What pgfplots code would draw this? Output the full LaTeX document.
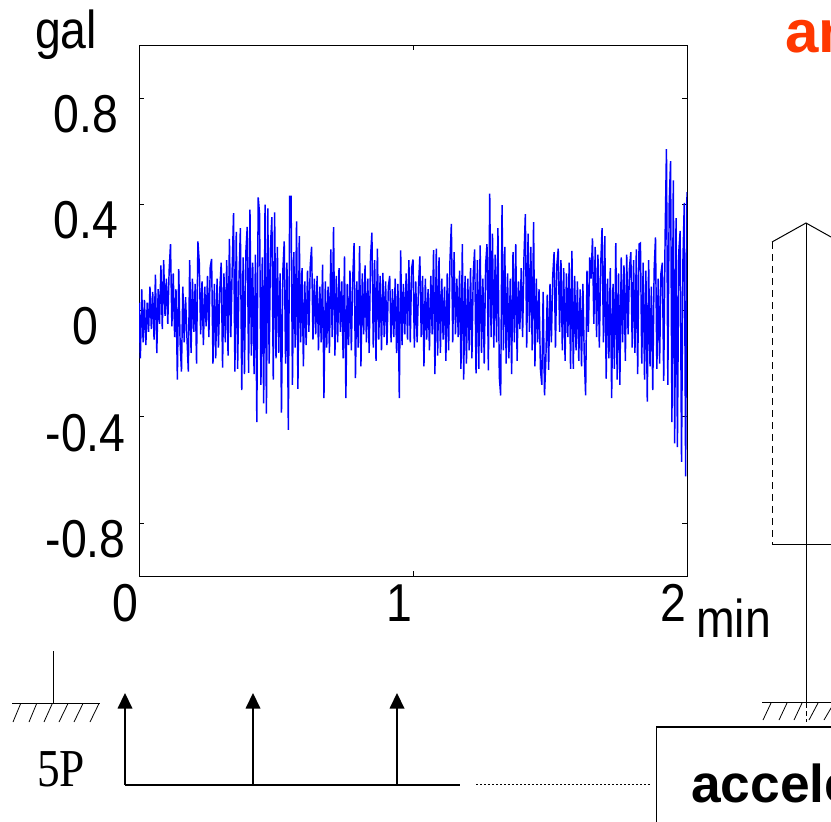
\documentclass[border=0pt]{standalone}
\usepackage{pgfplots}
\usepackage{fontspec}
\pgfplotsset{compat=1.18}
\setmainfont{Liberation Sans}
\newfontfamily\lab[FakeStretch=0.87]{Liberation Sans}
\newfontfamily\serifP[FakeStretch=0.85]{Liberation Serif}
\definecolor{trace}{RGB}{0,0,255}
\definecolor{titleor}{RGB}{255,56,0}
\begin{document}
\begin{tikzpicture}
\clip (0pt,0pt) rectangle (623.25pt,-615.75pt);
\begin{axis}[
  at={(104.25pt,-432pt)}, anchor=south west,
  scale only axis, width=411pt, height=398.25pt,
  xmin=0, xmax=2, ymin=-1, ymax=1,
  xtick={0,1,2}, ytick={-0.8,-0.4,0,0.4,0.8},
  xticklabels={0,1,2\hspace{7pt}}, yticklabels={-0.8,-0.4,0,0.4,0.8},
  tick align=inside, tick pos=both, major tick length=3.5pt,
  tick style={black,line width=0.5pt}, axis line style={line width=0.75pt},
  /pgf/number format/assume math mode=true,
  tick label style={font=\fontsize{40}{40}\selectfont\lab},
  yticklabel style={anchor=center,xshift=-40pt,yshift=-12pt},
  xticklabel style={anchor=center,xshift=-10.5pt,yshift=-20pt},
]
\addplot[trace,line width=1.1pt] table {
0.000 .03
0.005 -.18
0.010 .08
0.015 -.12
0.020 .04
0.025 -.13
0.030 .03
0.035 -.08
0.040 .09
0.045 -.07
0.050 .07
0.055 -.11
0.060 .135
0.065 -.16
0.070 .08
0.075 -.05
0.080 .17
0.085 -.07
0.090 .19
0.095 -.02
0.100 .12
0.105 -.05
0.110 .15
0.115 .25
0.120 -.06
0.125 .14
0.130 -.10
0.135 .08
0.140 -.26
0.145 .156
0.150 -.12
0.155 -.23
0.160 .09
0.165 -.12
0.170 .05
0.175 -.10
0.180 -.23
0.185 .19
0.190 -.16
0.195 .12
0.200 -.08
0.205 .10
0.210 -.20
0.215 .26
0.220 .18
0.225 -.09
0.230 .11
0.235 -.13
0.240 .09
0.245 -.06
0.250 .13
0.255 -.10
0.260 .164
0.265 .194
0.270 -.20
0.275 .10
0.280 -.18
0.285 .12
0.290 -.14
0.295 .08
0.300 .18
0.305 -.215
0.310 .14
0.315 -.12
0.320 .19
0.325 -.17
0.330 .27
0.335 -.10
0.340 .15
0.345 .367
0.350 -.23
0.355 .296
0.360 -.22
0.365 .12
0.370 .31
0.375 -.30
0.380 .20
0.385 -.24
0.390 .22
0.395 .315
0.400 -.235
0.405 .38
0.410 -.17
0.415 .18
0.420 -.24
0.425 .21
0.430 -.42
0.435 .426
0.440 .365
0.445 -.28
0.450 .20
0.455 -.35
0.460 .399
0.465 -.388
0.470 .385
0.475 -.20
0.480 .25
0.485 .352
0.490 -.26
0.495 .37
0.500 -.18
0.505 .24
0.510 -.16
0.515 .14
0.520 -.385
0.525 .15
0.530 .26
0.535 -.20
0.540 .18
0.545 -.45
0.550 .43
0.555 .43
0.560 -.28
0.565 .22
0.570 -.14
0.575 .336
0.580 -.295
0.585 .28
0.590 -.12
0.595 .16
0.600 -.21
0.605 .11
0.610 -.13
0.615 .15
0.620 -.08
0.625 .17
0.630 .24
0.635 -.11
0.640 .12
0.645 -.09
0.650 .13
0.655 -.15
0.660 .09
0.665 -.12
0.670 .173
0.675 -.33
0.680 .11
0.685 -.14
0.690 .09
0.695 -.16
0.700 .23
0.705 -.10
0.710 .314
0.715 -.17
0.720 .13
0.725 -.12
0.730 .16
0.735 -.08
0.740 .11
0.745 -.18
0.750 .204
0.755 -.33
0.760 .10
0.765 -.13
0.770 .15
0.775 -.15
0.780 .12
0.785 .254
0.790 -.255
0.795 .11
0.800 -.14
0.805 .242
0.810 -.21
0.815 .14
0.820 -.09
0.825 .17
0.830 -.12
0.835 .12
0.840 -.16
0.845 .20
0.850 .293
0.855 -.14
0.860 .19
0.865 -.19
0.870 .233
0.875 -.11
0.880 .13
0.885 -.15
0.890 .142
0.895 -.10
0.900 .11
0.905 -.13
0.910 .09
0.915 .13
0.920 -.12
0.925 .08
0.930 -.10
0.935 .12
0.940 -.16
0.945 .10
0.950 -.33
0.955 .226
0.960 -.13
0.965 .10
0.970 -.09
0.975 .14
0.980 -.11
0.985 .19
0.990 -.12
0.995 .16
1.000 .192
1.005 -.14
1.010 .11
1.015 -.12
1.020 .09
1.025 .204
1.030 -.10
1.035 .13
1.040 -.21
1.045 .12
1.050 -.11
1.055 .08
1.060 -.15
1.065 .13
1.070 -.09
1.075 .227
1.080 -.24
1.085 .233
1.090 -.17
1.095 .20
1.100 -.16
1.105 .12
1.110 -.11
1.115 .09
1.120 -.19
1.125 .14
1.130 -.15
1.135 .19
1.140 .326
1.145 -.12
1.150 .22
1.155 -.09
1.160 .12
1.165 -.10
1.170 .15
1.175 -.22
1.180 .25
1.185 -.26
1.190 .13
1.195 -.20
1.200 .12
1.205 -.15
1.210 .16
1.215 -.18
1.220 .14
1.225 .23
1.230 -.237
1.235 .19
1.240 -.22
1.245 .245
1.250 -.16
1.255 .12
1.260 -.20
1.265 .17
1.270 .25
1.275 -.225
1.280 .44
1.285 -.10
1.290 .29
1.295 -.14
1.300 .21
1.305 -.12
1.310 .31
1.315 -.25
1.320 -.32
1.325 .397
1.330 -.15
1.335 .24
1.340 -.20
1.345 .14
1.350 -.18
1.355 .12
1.360 -.24
1.365 .22
1.370 -.12
1.375 .25
1.380 -.19
1.385 .11
1.390 -.07
1.395 .16
1.400 -.10
1.405 .20
1.410 .363
1.415 -.14
1.420 .29
1.425 -.08
1.430 .24
1.435 -.15
1.440 .333
1.445 -.21
1.450 .12
1.455 -.12
1.460 .08
1.465 -.22
1.470 -.28
1.475 .07
1.480 -.32
1.485 -.18
1.490 .06
1.495 -.224
1.500 .10
1.505 -.12
1.510 .13
1.515 .22
1.520 -.14
1.525 .17
1.530 .233
1.535 -.08
1.540 .19
1.545 -.15
1.550 .16
1.555 -.19
1.560 .14
1.565 -.10
1.570 .18
1.575 -.22
1.580 .225
1.585 -.22
1.590 .13
1.595 -.15
1.600 .11
1.605 -.19
1.610 .08
1.615 -.21
1.620 .10
1.625 -.17
1.630 -.32
1.635 .15
1.640 -.08
1.645 .20
1.650 .12
1.655 .272
1.660 -.05
1.665 .24
1.670 -.10
1.675 .21
1.680 -.14
1.685 .17
1.690 .31
1.695 -.12
1.700 .28
1.705 -.257
1.710 .12
1.715 -.18
1.720 .16
1.725 -.33
1.730 .10
1.735 -.22
1.740 .254
1.745 -.26
1.750 .14
1.755 -.28
1.760 .20
1.765 -.12
1.770 .17
1.775 -.19
1.780 .21
1.785 -.09
1.790 .16
1.795 .22
1.800 -.14
1.805 .19
1.810 -.16
1.815 .23
1.820 -.24
1.825 .25
1.830 .254
1.835 -.20
1.840 .18
1.845 -.26
1.850 .15
1.855 -.343
1.860 .19
1.865 -.21
1.870 .09
1.875 -.30
1.880 .15
1.885 .275
1.890 -.22
1.895 .12
1.900 -.20
1.905 .14
1.910 .18
1.915 -.265
1.920 .27
1.925 .608
1.930 -.28
1.935 .40
1.940 .563
1.945 -.42
1.950 .49
1.955 -.50
1.960 .348
1.965 -.515
1.970 .22
1.975 .30
1.980 -.57
1.985 .18
1.990 .405
1.995 -.625
2.000 .446
};
\end{axis}
\begin{scope}[x=0.75pt,y=-0.75pt]
% text
\node[anchor=base,inner sep=0pt,font=\fontsize{40}{40}\selectfont\lab] at (66,48) {gal};
\node[anchor=base,inner sep=0pt,font=\fontsize{40}{40}\selectfont\lab] at (733.5,637) {min};
\node[anchor=base west,text=titleor,font=\fontsize{45}{45}\selectfont\bfseries,inner sep=0pt] at (785,52) {an};
\node[anchor=base west,font=\fontsize{40}{40}\selectfont\serifP,inner sep=0pt] at (37,786) {5P};
\node[anchor=base west,font=\fontsize{40}{40}\selectfont\bfseries,inner sep=0pt] at (691,802) {accele};
% structure right
\draw[line width=0.75pt] (772,242) -- (806,223) -- (831,237);
\draw[line width=0.6pt] (806,223) -- (806,703);
\draw[line width=0.6pt,dash pattern=on 4pt off 2pt] (806,703) -- (806,722);
\draw[line width=0.5pt,dash pattern=on 5pt off 4pt] (772,242) -- (772,544);
\draw[line width=0.75pt] (772,544) -- (831,544);
\draw[line width=0.75pt] (762,702.7) -- (831,702.7);
\foreach \a/\b in {771/763,787/779,802/794,818/809,834/824} \draw[line width=0.6pt] (\a,703) -- (\b,720);
% left ground
\draw[line width=0.6pt] (53,651) -- (53,703.5);
\draw[line width=0.75pt] (12,703.5) -- (100,703.5);
\foreach \a/\b in {20.7/13,36.7/29,52.3/44,68/59,83/74,99/90} \draw[line width=0.6pt] (\a,703.5) -- (\b,722);
% arrows
\draw[line width=1.5pt] (125,784.5) -- (460,784.5);
\foreach \a in {125,253,397} {
  \draw[line width=1.1pt] (\a,784.5) -- (\a,705);
  \fill (\a,693) -- (\a+7.5,708.5) -- (\a-7.5,708.5) -- cycle;
}
\draw[line width=1.3pt,dash pattern=on 1.5pt off 1.5pt] (476,784.5) -- (652,784.5);
% box
\draw[line width=1.3pt] (831,727) -- (656.5,727) -- (656.5,830);
\end{scope}
\end{tikzpicture}
\end{document}
